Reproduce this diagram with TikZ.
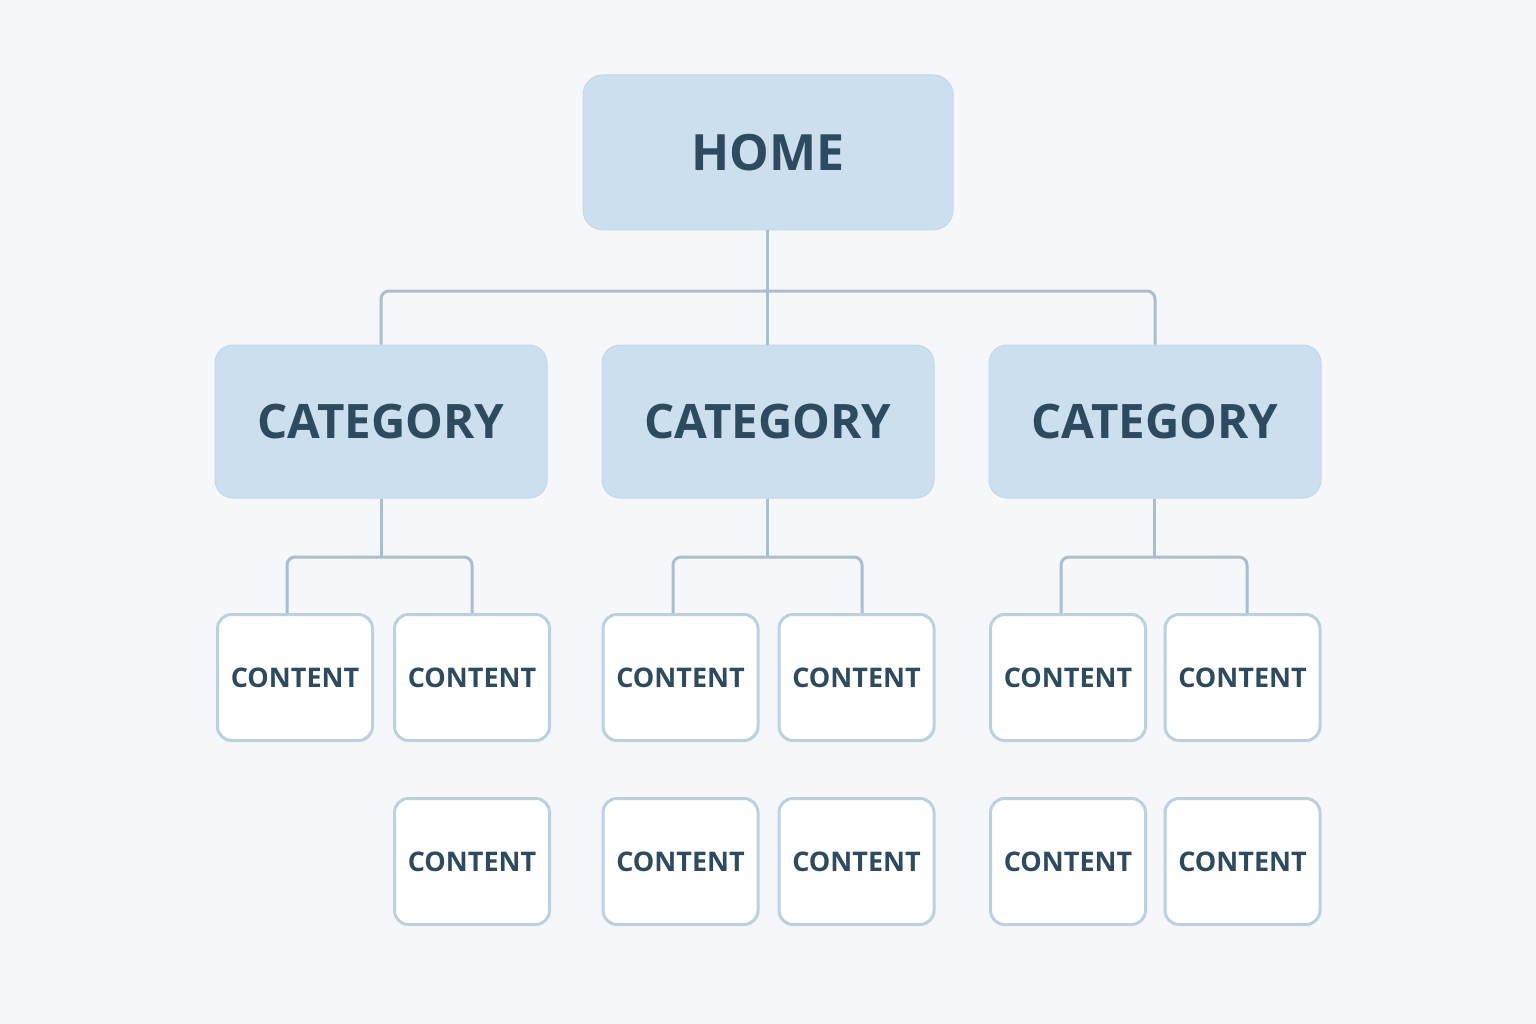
\documentclass[tikz,border=0pt]{standalone}
\usepackage{fontspec}
\setmainfont{Open Sans}
\definecolor{bg}{HTML}{F5F7FA}
\definecolor{catfill}{HTML}{CCDFEE}
\definecolor{catline}{HTML}{C4D8E9}
\definecolor{boxline}{HTML}{BCD0E0}
\definecolor{conn}{HTML}{A9BECE}
\definecolor{txt}{HTML}{2E4A5E}
\begin{document}
\begin{tikzpicture}[x=1pt,y=-1pt,
  homebox/.style={draw=catline,line width=1pt,fill=catfill,rounded corners=20pt,minimum width=370pt,minimum height=155pt,inner sep=0pt,text=txt,font=\fontsize{50}{58}\selectfont\bfseries},
  catbox/.style={draw=catline,line width=1pt,fill=catfill,rounded corners=18pt,minimum width=332pt,minimum height=153pt,inner sep=0pt,text=txt,font=\fontsize{47.5}{56}\selectfont\bfseries},
  contbox/.style={draw=boxline,line width=3pt,fill=white,rounded corners=14pt,minimum width=155pt,minimum height=126pt,inner sep=0pt,text=txt,font=\fontsize{27}{32}\selectfont\bfseries},
  link/.style={draw=conn,line width=3pt,rounded corners=8pt}]
\fill[bg] (0,0) rectangle (1536,1024);
\useasboundingbox (0,0) rectangle (1536,1024);
\node[homebox] (home) at (768,152.5) {HOME};
\node[catbox] (c1) at (381,421.5) {CATEGORY};
\node[catbox] (c2) at (768,421.5) {CATEGORY};
\node[catbox] (c3) at (1155,421.5) {CATEGORY};
\node[contbox] (k11) at (295,677.5) {CONTENT};
\node[contbox] (k12) at (472,677.5) {CONTENT};
\node[contbox] (k22) at (472,861.5) {CONTENT};
\node[contbox] (k13) at (680.5,677.5) {CONTENT};
\node[contbox] (k14) at (856.5,677.5) {CONTENT};
\node[contbox] (k23) at (680.5,861.5) {CONTENT};
\node[contbox] (k24) at (856.5,861.5) {CONTENT};
\node[contbox] (k15) at (1068,677.5) {CONTENT};
\node[contbox] (k16) at (1242.5,677.5) {CONTENT};
\node[contbox] (k25) at (1068,861.5) {CONTENT};
\node[contbox] (k26) at (1242.5,861.5) {CONTENT};
\coordinate (bus) at (767,291);
\coordinate (b1) at (381,557);
\coordinate (b2) at (767.5,557);
\coordinate (b3) at (1154,557);
\draw[link] (home.south -| bus) -- (c2.north -| bus);
\draw[link] (c1.north) |- (bus) -| (c3.north);
\draw[link] (c1.south -| b1) -- (b1);
\draw[link] ([xshift=-8pt]k11.north) |- (b1) -| ([xshift=0pt]k12.north);
\draw[link] (c2.south -| b2) -- (b2);
\draw[link] ([xshift=-7.5pt]k13.north) |- (b2) -| ([xshift=5.5pt]k14.north);
\draw[link] (c3.south -| b3) -- (b3);
\draw[link] ([xshift=-7pt]k15.north) |- (b3) -| ([xshift=4.5pt]k16.north);
\end{tikzpicture}
\end{document}
